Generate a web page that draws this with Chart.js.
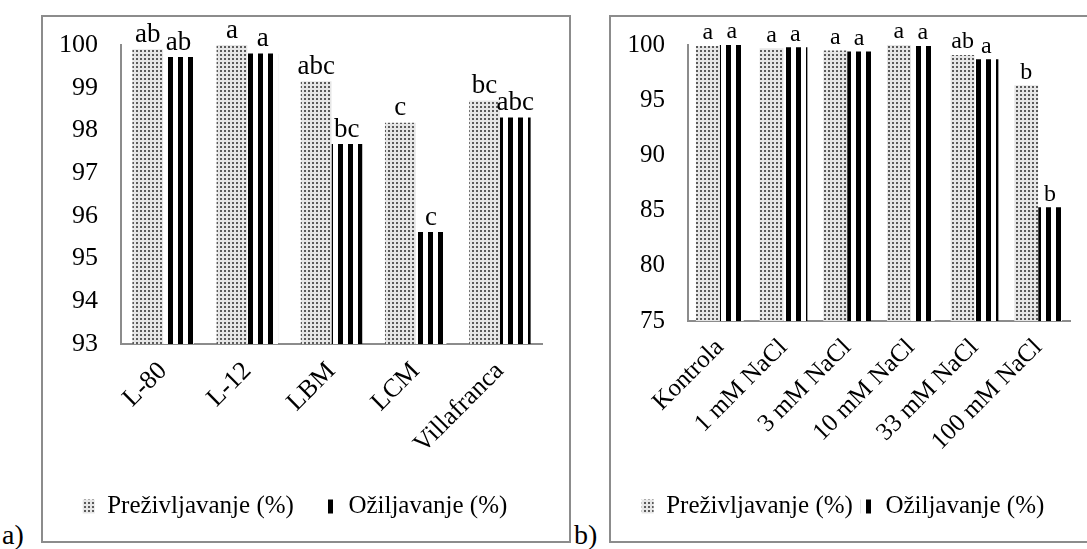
<!DOCTYPE html>
<html>
<head>
<meta charset="utf-8">
<script src="https://cdn.jsdelivr.net/npm/chart.js@4"></script>
<style>
  body { margin: 0; background: #fff; width: 1087px; height: 549px; overflow: hidden; position: relative; font-family: "Liberation Serif", serif; }
  .box { position: absolute; border: 2px solid #8c8c8c; box-sizing: border-box; background: #fff; }
  .tag { position: absolute; font-size: 28px; line-height: 28px; color: #000; }
</style>
</head>
<body>
<div class="box" style="left:41px; top:15px; width:530px; height:528px;"><canvas id="chartA" width="526" height="524"></canvas></div>
<div class="box" style="left:609px; top:15px; width:482px; height:528px;"><canvas id="chartB" width="478" height="524"></canvas></div>
<div class="tag" style="left:2px; top:521px;">a)</div>
<div class="tag" style="left:574px; top:521px;">b)</div>
<script>
// chart a) - sorte
var sortLabels = ['L-80', 'L-12', 'LBM', 'LCM', 'Villafranca'];
var sortPrez = [99.9, 100, 99.15, 98.18, 98.7];
var sortOzil = [99.72, 99.8, 97.68, 95.62, 98.3];
var sortPrezLetters = ['ab', 'a', 'abc', 'c', 'bc'];
var sortOzilLetters = ['ab', 'a', 'bc', 'c', 'abc'];
var sortTicks = [93, 94, 95, 96, 97, 98, 99, 100];

// chart b) - NaCl
var saltLabels = ['Kontrola', '1 mM NaCl', '3 mM NaCl', '10 mM NaCl', '33 mM NaCl', '100 mM NaCl'];
var saltPrez = [99.9, 99.7, 99.5, 100, 99.1, 96.35];
var saltOzil = [100, 99.8, 99.4, 99.9, 98.7, 85.3];
var saltPrezLetters = ['a', 'a', 'a', 'a', 'ab', 'b'];
var saltOzilLetters = ['a', 'a', 'a', 'a', 'a', 'b'];
var saltTicks = [75, 80, 85, 90, 95, 100];

var serif = '"Liberation Serif", "Times New Roman", serif';

function dotPattern() {
    var c = document.createElement('canvas');
    c.width = 4; c.height = 4;
    var g = c.getContext('2d');
    g.fillStyle = '#e6e6e6';
    g.fillRect(0, 0, 4, 4);
    g.fillStyle = '#5a5a5a';
    g.fillRect(1, 1, 2, 2);
    return g.createPattern(c, 'repeat');
}

function stripePattern() {
    var c = document.createElement('canvas');
    c.width = 10; c.height = 4;
    var g = c.getContext('2d');
    g.fillStyle = '#ffffff';
    g.fillRect(0, 0, 10, 4);
    g.fillStyle = '#000000';
    g.fillRect(5, 0, 5, 4);
    return g.createPattern(c, 'repeat');
}

var letterPlugin = {
    id: 'letters',
    afterDatasetsDraw: function(chart, args, opts) {
        var ctx = chart.ctx;
        ctx.save();
        ctx.font = opts.size + 'px ' + serif;
        ctx.fillStyle = '#000';
        ctx.textAlign = 'center';
        ctx.textBaseline = 'bottom';
        chart.data.datasets.forEach(function(ds, i) {
            var meta = chart.getDatasetMeta(i);
            meta.data.forEach(function(bar, j) {
                ctx.fillText(ds.letters[j], bar.x, bar.y - 1);
            });
        });
        ctx.restore();
    }
};

function makeChart(id, labels, prez, ozil, prezL, ozilL, ticks, lay) {
    var ctx = document.getElementById(id).getContext('2d');
    return new Chart(ctx, {
        type: 'bar',
        data: {
            labels: labels,
            datasets: [{
                label: 'Preživljavanje (%)',
                data: prez,
                letters: prezL,
                backgroundColor: dotPattern(),
                borderWidth: 0
            }, {
                label: 'Ožiljavanje (%)',
                data: ozil,
                letters: ozilL,
                backgroundColor: stripePattern(),
                borderWidth: 0
            }]
        },
        options: {
            responsive: false,
            animation: false,
            layout: { padding: lay.padding },
            datasets: { bar: { categoryPercentage: lay.cat, barPercentage: 1 } },
            scales: {
                x: {
                    grid: { display: false, drawTicks: false },
                    border: { display: true, color: '#8c8c8c', width: 2 },
                    ticks: { color: '#000', font: { family: serif, size: lay.xf }, minRotation: 45, maxRotation: 45, padding: 12 },
                    afterFit: function(s) { s.height = lay.xh; s.paddingLeft = 0; s.paddingRight = 0; }
                },
                y: {
                    min: ticks[0],
                    max: ticks[ticks.length - 1],
                    afterBuildTicks: function(s) { s.ticks = ticks.map(function(v) { return { value: v }; }); },
                    grid: { display: false, drawTicks: false },
                    border: { display: true, color: '#8c8c8c', width: 2 },
                    ticks: { color: '#000', font: { family: serif, size: lay.yf }, padding: 23 },
                    afterFit: function(s) { s.width = lay.yw; s.paddingTop = 0; s.paddingBottom = 0; }
                }
            },
            plugins: {
                legend: {
                    position: 'bottom',
                    labels: { color: '#000', font: { family: serif, size: 25 }, boxWidth: 12, boxHeight: 14, padding: lay.legPad }
                },
                tooltip: { enabled: false },
                letters: { size: lay.lf }
            }
        },
        plugins: [letterPlugin]
    });
}

makeChart('chartA', sortLabels, sortPrez, sortOzil, sortPrezLetters, sortOzilLetters, sortTicks,
    { padding: { left: 5, top: 28, right: 27, bottom: 12 }, yw: 73, xh: 120, cat: 0.73, legPad: 30, xf: 26, yf: 26, lf: 27 });
makeChart('chartB', saltLabels, saltPrez, saltOzil, saltPrezLetters, saltOzilLetters, saltTicks,
    { padding: { left: 5, top: 28, right: 19, bottom: 12 }, yw: 72, xh: 165, cat: 0.75, legPad: 8, xf: 25, yf: 25, lf: 24 });
</script>
</body>
</html>
